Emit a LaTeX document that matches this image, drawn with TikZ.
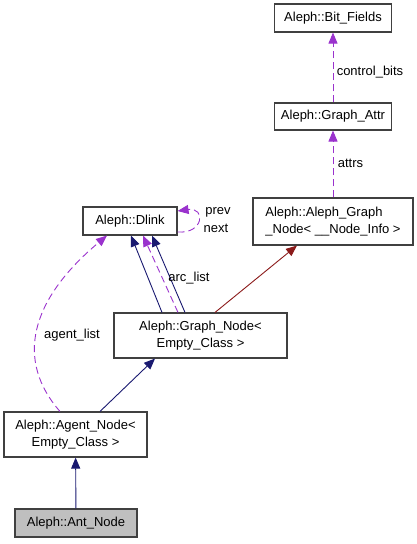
\documentclass[tikz,border=0pt]{standalone}
\usepackage{fontspec}
\setmainfont{Liberation Sans}
\usetikzlibrary{arrows.meta}

\definecolor{edgeblue}{HTML}{191970}
\definecolor{edgepurple}{HTML}{9A32CD}
\definecolor{edgered}{HTML}{8B1A1A}
\definecolor{nodegray}{HTML}{BFBFBF}

\begin{document}
\begin{tikzpicture}[x=1pt, y=-1pt,
    classbox/.style={draw=black!75, line width=1.1pt, inner sep=0pt, align=center, font=\fontsize{13}{17}\selectfont},
    lbl/.style={inner sep=0pt, font=\fontsize{13}{15}\selectfont},
    pubinh/.style={-{Triangle[length=11pt,width=9pt]}, line width=0.9pt, edgeblue},
    privinh/.style={-{Triangle[length=11pt,width=9pt]}, line width=0.9pt, edgered},
    usage/.style={-{Triangle[length=11pt,width=9pt]}, line width=0.9pt, edgepurple, dash pattern=on 7pt off 4pt}
  ]
    \useasboundingbox (0,0) rectangle (417,544);

    \node[classbox, minimum width=117pt, minimum height=28pt] (bitfields) at (333,18) {Aleph::Bit\_Fields};
    \node[classbox, minimum width=117pt, minimum height=27pt] (graphattr) at (333,116.5) {Aleph::Graph\_Attr};
    \node[classbox, align=left, minimum width=160pt, minimum height=47pt] (alephgraph) at (333,221.5) {Aleph::Aleph\_Graph\\\_Node< \_\_Node\_Info >};
    \node[classbox, minimum width=94pt, minimum height=28pt] (dlink) at (130,221) {Aleph::Dlink};
    \node[classbox, minimum width=173pt, minimum height=45pt] (graphnode) at (200.5,335.5) {Aleph::Graph\_Node<\\Empty\_Class >};
    \node[classbox, minimum width=143pt, minimum height=45pt] (agentnode) at (75.5,434.5) {Aleph::Agent\_Node<\\Empty\_Class >};
    \node[classbox, fill=nodegray, minimum width=122pt, minimum height=28pt] (antnode) at (76,523) {Aleph::Ant\_Node};

    \draw[pubinh] (antnode) -- (agentnode);
    \draw[pubinh] ([xshift=24.5pt]agentnode.north) -- ([xshift=-45.5pt]graphnode.south);
    \draw[pubinh] ([xshift=-38.5pt]graphnode.north) -- ([xshift=1pt]dlink.south);
    \draw[usage] ([xshift=-22.5pt]graphnode.north) -- ([xshift=13pt]dlink.south);
    \draw[pubinh] ([xshift=-15.5pt]graphnode.north) -- ([xshift=22pt]dlink.south);
    \draw[privinh] ([xshift=14.5pt]graphnode.north) -- ([xshift=-36pt]alephgraph.south);
    \draw[usage] (alephgraph) -- (graphattr);
    \draw[usage] (graphattr) -- (bitfields);
    \draw[usage] ([xshift=-15.5pt]agentnode.north) .. controls (15,360) and (30,300) .. ([xshift=-23pt]dlink.south);
    \draw[usage] ([yshift=-11pt]dlink.east) .. controls (204,234) and (206,207) .. ([yshift=10pt]dlink.east);

    \node[lbl] (prevlbl) at (218,212) {prev};
    \node[lbl] (nextlbl) at (216,228) {next};
    \node[lbl] (arclbl) at (189,278) {arc\_list};
    \node[lbl] (agentlbl) at (72,335) {agent\_list};
    \node[lbl] (ctrllbl) at (370,72) {control\_bits};
    \node[lbl] (attrslbl) at (350.5,163) {attrs};
\end{tikzpicture}
\end{document}
